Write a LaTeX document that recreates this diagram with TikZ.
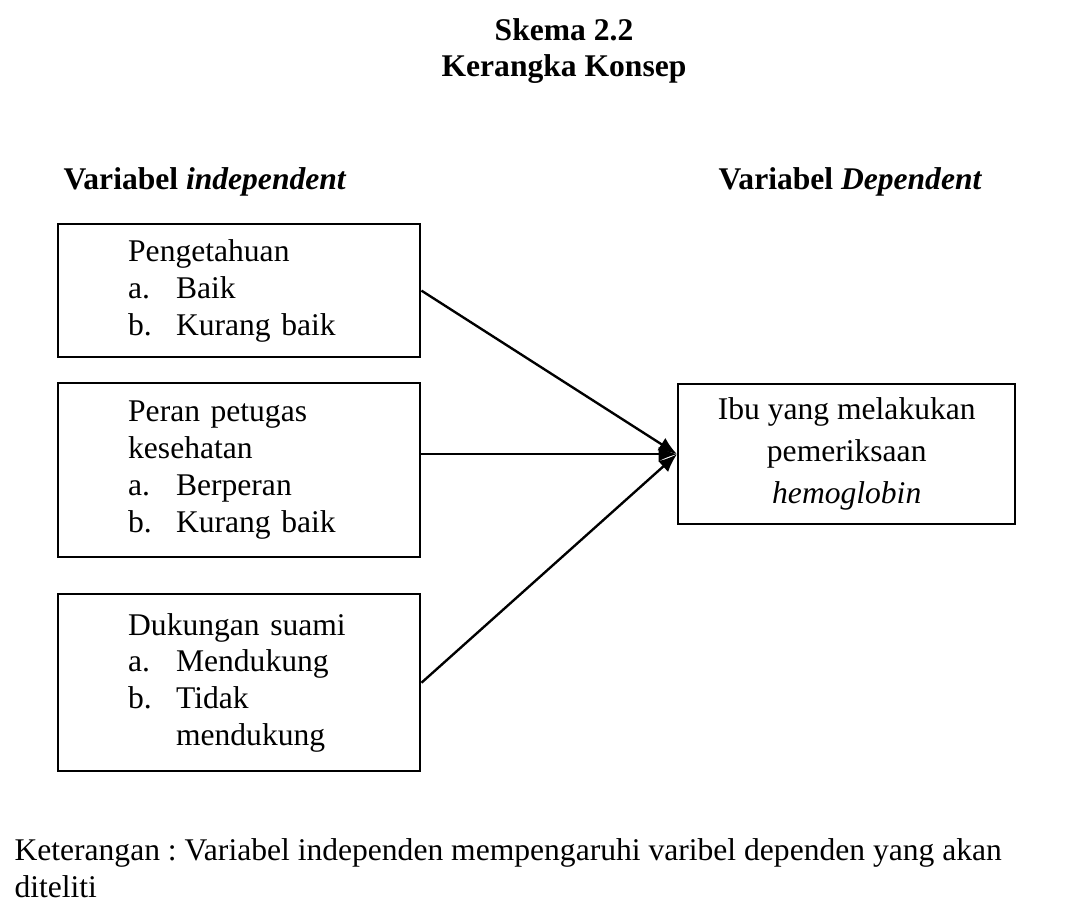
\documentclass[tikz,border=0pt]{standalone}
\usepackage{fontspec}
\setmainfont{Liberation Serif}
\usepackage{tikz}
\usetikzlibrary{arrows.meta, positioning, calc}

\newcommand{\butir}[1]{\makebox[18.2pt][l]{#1}}
\frenchspacing

\begin{document}
\begin{tikzpicture}[x=0.38pt, y=-0.38pt,
    every node/.style={font=\fontsize{12pt}{14pt}\selectfont},
    judulteks/.style={inner sep=0pt, font=\fontsize{12pt}{14pt}\selectfont\bfseries},
    varbox/.style={draw, line width=0.9pt, anchor=north west, align=left, text width=84.4pt, inner xsep=26.6pt, inner ysep=0pt, minimum width=137.6pt},
    depbox/.style={draw, line width=0.9pt, anchor=north west, align=center, inner sep=0pt, minimum width=128.1pt, minimum height=53.2pt, font=\fontsize{12pt}{16pt}\selectfont},
    arr/.style={line width=0.9pt, -{Latex[length=7pt, width=5.6pt]}}]
    \useasboundingbox (0,0) rectangle (1067,905); % page area

    % Title
    \node[judulteks, anchor=base] (judul) at (564,40) {Skema 2.2};
    \node[judulteks, anchor=base] (subjudul) at (564,77) {Kerangka Konsep};

    % Column headings
    \node[judulteks, anchor=base west] (indep) at (63,189) {Variabel \textit{independent}};
    \node[judulteks, anchor=base west] (dep) at (718,189) {Variabel \textit{Dependent}};

    % Independent variables
    \node[varbox, minimum height=50.5pt] (tahu) at (57,223) {Pengetahuan\\ \butir{a.}Baik\\ \butir{b.}Kurang baik};
    \node[varbox, minimum height=66.1pt] (peran) at (57,382) {Peran petugas\\ kesehatan\\ \butir{a.}Berperan\\ \butir{b.}Kurang baik};
    \node[varbox, minimum height=67.3pt] (suami) at (57,593) {Dukungan suami\\ \butir{a.}Mendukung\\ \butir{b.}Tidak\\ \butir{}mendukung};

    % Dependent variable
    \node[depbox] (ibu) at (677,383) {Ibu yang melakukan\\ pemeriksaan\\ \textit{hemoglobin}};

    % Arrows
    \draw[arr] (tahu.east) -- (ibu.west);
    \draw[arr] (ibu.west -| peran.east) -- (ibu.west);
    \draw[arr] (suami.east) -- (ibu.west);

    % Note
    \node[anchor=base west, align=left, inner sep=0pt] (ket) at (14,897) {Keterangan : Variabel independen mempengaruhi varibel dependen yang akan\\ diteliti};
\end{tikzpicture}
\end{document}
